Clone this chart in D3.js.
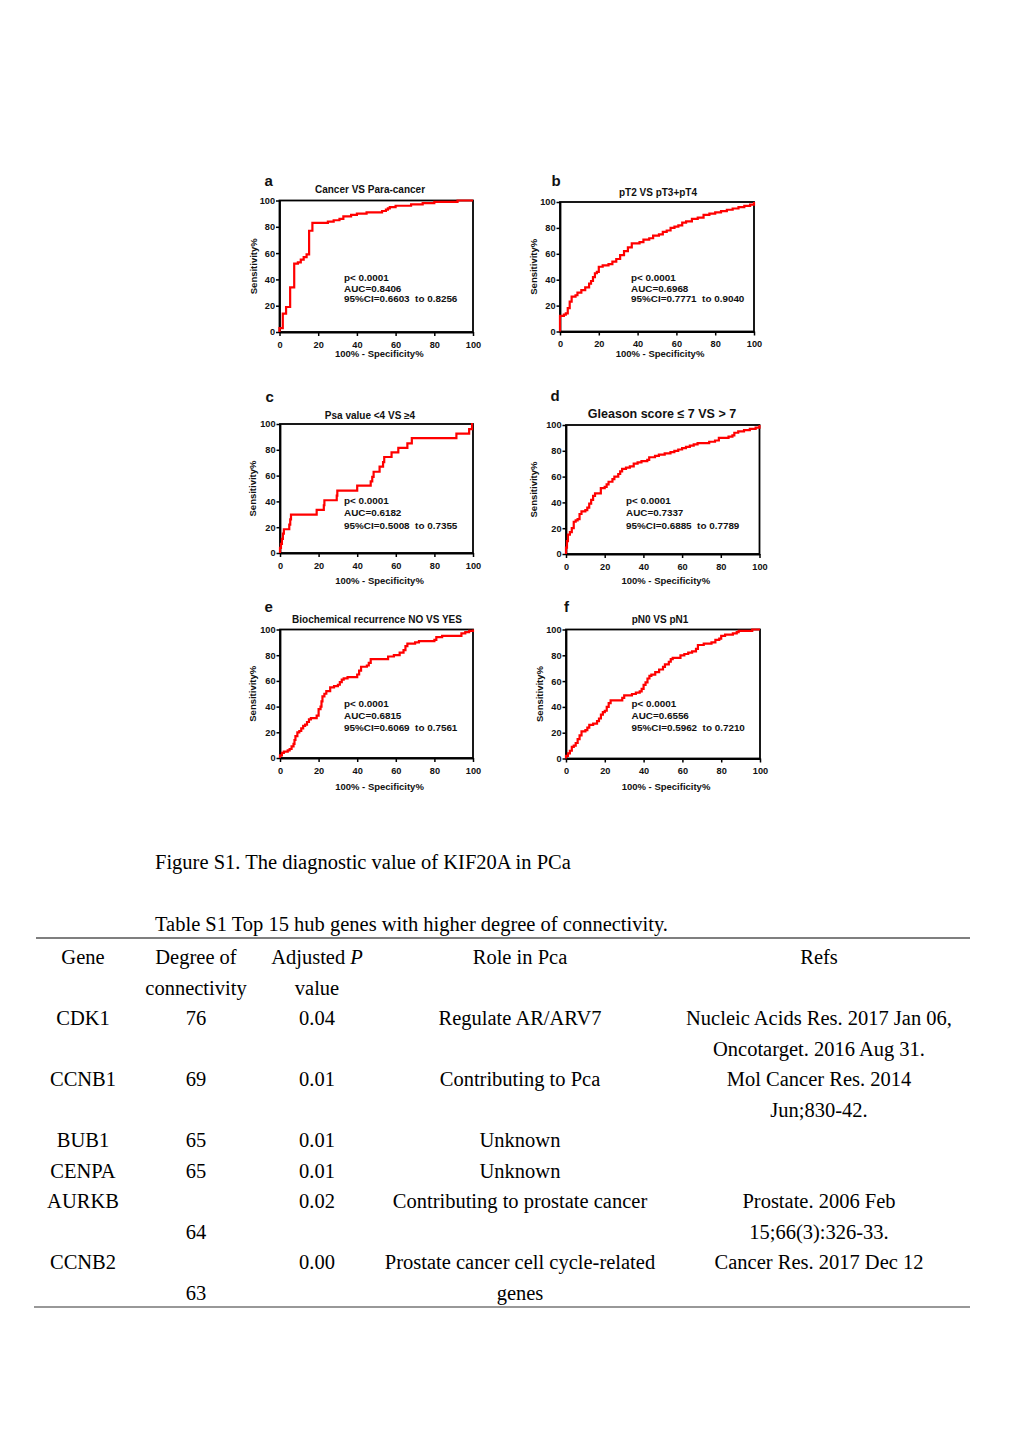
<!DOCTYPE html>
<html><head><meta charset="utf-8">
<script src="https://cdn.jsdelivr.net/npm/d3@7"></script>
<style>body{margin:0;background:#fff} svg{display:block}</style>
</head><body>
<svg id="c" width="1020" height="1442"></svg>
<script>
// ---------------- DATA ----------------
const panelLetters = ["a","b","c","d","e","f"];
const panelTitles = ["Cancer VS Para-cancer","pT2 VS pT3+pT4","Psa value <4 VS \u22654",
  "Gleason score \u2264 7 VS > 7","Biochemical recurrence NO VS YES","pN0 VS pN1"];
const pValueTexts = ["p< 0.0001","p< 0.0001","p< 0.0001","p< 0.0001","p< 0.0001","p< 0.0001"];
const aucValues = ["0.8406","0.6968","0.6182","0.7337","0.6815","0.6556"];
const ciLower = ["0.6603","0.7771","0.5008","0.6885","0.6069","0.5962"];
const ciUpper = ["0.8256","0.9040","0.7355","0.7789","0.7561","0.7210"];
const axisTicks = [0,20,40,60,80,100];
const xAxisLabel = "100% - Specificity%";
const yAxisLabel = "Sensitivity%";

// ROC points: [100% - specificity, sensitivity]
const rocA = [[0,0],[0,3],[1.7,14],[3.4,19],[5.5,34],[7.6,52],[9.5,53],[11,55],[12.5,57],[14,59],
  [15.3,77],[17,83],[25,84],[28,85],[31,86],[33,88],[37,89],[40,90],[45,91],[53,92],[55,93],
  [56,94],[57,95],[60,96],[68,97],[74,98],[80,99],[92,100],[100,100]];
const rocB = [[0,0],[0,12],[2,13],[3,14],[4,18],[5,23],[6,27],[8,28],[9,30],[11,32],[13,34],
  [15,37],[16,39],[17,42],[18,45],[19,46],[20,50],[22,51],[25,52],[27,54],[29,56],[31,59],
  [33,62],[35,65],[37,68],[40,68],[41,69],[43,71],[46,72],[48,74],[51,75],[53,77],[55,78],
  [57,80],[59,81],[61,82],[63,84],[65,85],[68,87],[71,88],[74,90],[77,91],[80,92],[83,93],
  [86,94],[89,95],[92,96],[95,97],[98,98],[100,100]];
const rocC = [[0,0],[0,4],[0.5,7],[1,11],[1.5,15],[2,18.4],[4.8,22],[5.3,26],[5.7,29.8],
  [19,33.4],[22.7,37],[23,40.9],[29.4,44.5],[29.7,48.4],[40,52.3],[47,55.6],[47.8,59],
  [48.5,63],[51.6,67],[53.4,70.5],[54,74.4],[57.8,78],[61.3,81.5],[66,85],[68.3,89],
  [91.4,92.6],[98,96],[99.5,100],[100,100]];
const rocD = [[0,0],[0,5],[0.5,10],[1,15],[2,17],[3,20],[4,25],[5,26],[6,27],[7,31],[8,33],
  [10,34],[11,36],[12,39],[13,42],[14,45],[15,47],[17,47],[18,51],[20,52],[21,54],[22,56],
  [24,58],[25,60],[27,62],[28,64],[29,66],[31,67],[33,68],[35,70],[37,71],[39,72],[42,73],
  [43,75],[46,76],[48,77],[51,78],[54,79],[56,80],[58,81],[60,82],[62,83],[64,84],[66,85],
  [68,86],[72,86],[74,87],[77,88],[79,90],[82,90],[84,91],[86,92],[87,94],[89,95],[92,96],
  [95,97],[98,98],[100,100]];
const rocE = [[0,0],[0,2],[1,4],[2,5],[4,6],[5,7],[6,9],[7,11],[7.5,14],[8,17],[9,20],[10,21],
  [11,23],[12,25],[13,26],[14,28],[15,30],[16,31],[18,31],[19,33],[20,38],[21,40],[21.5,44],
  [22,48],[23,50],[24,52],[26,55],[28,56],[30,57],[31,59],[32,61],[33,62],[35,63],[39,63],
  [40,65],[41,68],[42,71],[45,72],[46,74],[47,77],[53,77],[56,79],[59,80],[62,82],[64,84],
  [65,87],[66,89],[70,90],[72,91],[80,92],[81,94],[84,95],[93,95],[94,97],[96,98],[98,99],
  [100,100]];
const rocF = [[0,0],[0,2],[1,4],[2,6],[3,9],[4,10],[5,12],[6,15],[7,18],[8,21],[10,22],[11,24],
  [12,26],[14,27],[16,29],[17,31],[18,34],[19,36],[20,37],[21,40],[22,43],[23,45],[28,45],
  [29,47],[30,49],[34,50],[36,51],[38,52],[39,54],[40,57],[41,59],[42,62],[43,64],[44,65],
  [46,67],[48,69],[50,71],[51,73],[53,75],[54,77],[55,78],[58,78],[59,80],[61,81],[63,82],
  [65,83],[67,85],[68,88],[71,89],[75,90],[77,92],[79,93],[80,95],[82,96],[86,97],[88,98],
  [89,99],[95,99],[96,100],[100,100]];
const rocCurves = [rocA, rocB, rocC, rocD, rocE, rocF];

const figureCaption = "Figure S1. The diagnostic value of KIF20A in PCa";
const tableTitle = "Table S1 Top 15 hub genes with higher degree of connectivity.";
const headerGene = ["Gene"];
const headerDegree = ["Degree of","connectivity"];
const headerPValue = ["Adjusted |P|","value"];
const headerRole = ["Role in Pca"];
const headerRefs = ["Refs"];
const geneNames = [["CDK1"],["CCNB1"],["BUB1"],["CENPA"],["AURKB"],["CCNB2"]];
const degreeValues = [["76"],["69"],["65"],["65"],["","64"],["","63"]];
const adjPValues = [["0.04"],["0.01"],["0.01"],["0.01"],["0.02"],["0.00"]];
const roles = [["Regulate AR/ARV7"],["Contributing to Pca"],["Unknown"],["Unknown"],
  ["Contributing to prostate cancer"],["Prostate cancer cell cycle-related","genes"]];
const refs = [["Nucleic Acids Res. 2017 Jan 06,","Oncotarget. 2016 Aug 31."],
  ["Mol Cancer Res. 2014","Jun;830-42."],[],[],
  ["Prostate. 2006 Feb","15;66(3):326-33."],["Cancer Res. 2017 Dec 12"]];

// ---------------- LAYOUT ----------------
const layout = [
  {x0:279.5,x1:473,y0:200.5,y1:332, letter:[264.5,186], title:[370,192.5,10], ylabX:256.5, xlabY:356.5, stats:[344,281,10.7]},
  {x0:560,x1:754,y0:202,y1:331.5,  letter:[551.5,186], title:[658,196,10],   ylabX:537,   xlabY:356.5, stats:[631,281,10.7]},
  {x0:280,x1:473,y0:424,y1:553,    letter:[265.5,402], title:[370,418.5,10], ylabX:256,   xlabY:583.5, stats:[344,503.5,12.6]},
  {x0:566,x1:759.5,y0:425,y1:554,  letter:[550.5,401], title:[662,417.8,12.5], ylabX:536.5, xlabY:583.5, stats:[626,503.5,12.6]},
  {x0:280,x1:473,y0:629.5,y1:758,  letter:[264.5,612], title:[377,622.5,10], ylabX:256,   xlabY:790, stats:[344,706.5,12.3]},
  {x0:566,x1:760,y0:629.5,y1:758.5,letter:[564,612], title:[660,622.5,10], ylabX:542.5, xlabY:790, stats:[631.5,706.5,12.3]}
];

const svg = d3.select("#c");
svg.append("rect").attr("width",1020).attr("height",1442).attr("fill","#fff");
const SANS = "'Liberation Sans', Arial, sans-serif";
const SERIF = "'Liberation Serif', 'Times New Roman', serif";

layout.forEach((L, i) => {
  const g = svg.append("g").attr("font-family", SANS).attr("font-weight","bold");
  const x = d3.scaleLinear().domain([0,100]).range([L.x0, L.x1]);
  const y = d3.scaleLinear().domain([0,100]).range([L.y1, L.y0]);

  g.append("rect").attr("x",L.x0).attr("y",L.y0).attr("width",L.x1-L.x0).attr("height",L.y1-L.y0)
    .attr("fill","none").attr("stroke","#000").attr("stroke-width",1.8);

  const ax = g.append("g").attr("transform",`translate(0,${L.y1})`)
    .call(d3.axisBottom(x).tickValues(axisTicks).tickSize(4).tickPadding(5).tickSizeOuter(0));
  const ay = g.append("g").attr("transform",`translate(${L.x0},0)`)
    .call(d3.axisLeft(y).tickValues(axisTicks).tickSize(3.5).tickPadding(1).tickSizeOuter(0));
  [ax, ay].forEach(a => {
    a.select(".domain").attr("stroke","#000").attr("stroke-width",1.8);
    a.selectAll(".tick line").attr("stroke","#000").attr("stroke-width",1.5);
    a.selectAll(".tick text").attr("fill","#111").attr("font-size",9.2)
      .attr("font-family",SANS).attr("font-weight","bold");
  });

  const line = d3.line().x(d => x(d[0])).y(d => y(d[1])).curve(d3.curveStepAfter);
  g.append("path").datum(rocCurves[i]).attr("d", line).attr("fill","none")
    .attr("stroke","#ff0000").attr("stroke-width",2.2).attr("stroke-linejoin","miter");

  g.append("text").attr("x",L.letter[0]).attr("y",L.letter[1]).attr("font-size",15)
    .attr("fill","#111").text(panelLetters[i]);
  g.append("text").attr("x",L.title[0]).attr("y",L.title[1]).attr("text-anchor","middle")
    .attr("font-size",L.title[2]).attr("fill","#111").text(panelTitles[i]);
  g.append("text").attr("transform",`translate(${L.ylabX},${(L.y0+L.y1)/2}) rotate(-90)`)
    .attr("text-anchor","middle").attr("font-size",9.5).attr("fill","#111").text(yAxisLabel);
  g.append("text").attr("x",(L.x0+L.x1)/2+3).attr("y",L.xlabY).attr("text-anchor","middle")
    .attr("font-size",9.5).attr("fill","#111").text(xAxisLabel);
  const st = [pValueTexts[i], "AUC=" + aucValues[i], "95%CI=" + ciLower[i] + "  to " + ciUpper[i]];
  st.forEach((s, k) => {
    g.append("text").attr("x",L.stats[0]).attr("y",L.stats[1] + k*L.stats[2])
      .attr("font-size",9.9).attr("fill","#111").attr("xml:space","preserve")
      .style("white-space","pre").text(s);
  });
});

// ---------------- CAPTION & TABLE ----------------
const tg = svg.append("g").attr("font-family", SERIF).attr("font-size", 20.5).attr("fill","#000");
tg.append("text").attr("x",155).attr("y",868.5).text(figureCaption);
tg.append("text").attr("x",155).attr("y",931).text(tableTitle);
tg.append("line").attr("x1",36).attr("x2",970).attr("y1",938).attr("y2",938)
  .attr("stroke","#555").attr("stroke-width",1.6);
tg.append("line").attr("x1",34).attr("x2",970).attr("y1",1307).attr("y2",1307)
  .attr("stroke","#333").attr("stroke-width",1.2);

const colX = [83, 196, 317, 520, 819];
const baseY = 964, lineH = 30.5;
function cell(lines, col, startLine) {
  lines.forEach((s, k) => {
    if (!s) return;
    const t = tg.append("text").attr("x", colX[col]).attr("y", baseY + (startLine + k) * lineH)
      .attr("text-anchor","middle");
    s.split("|").forEach((p, j) => {
      const ts = t.append("tspan").text(p);
      if (j % 2 === 1) ts.attr("font-style","italic");
    });
  });
}
cell(headerGene,0,0); cell(headerDegree,1,0); cell(headerPValue,2,0); cell(headerRole,3,0); cell(headerRefs,4,0);
let lineIdx = 2;
geneNames.forEach((gname, r) => {
  const cols = [gname, degreeValues[r], adjPValues[r], roles[r], refs[r]];
  cols.forEach((c, ci) => cell(c, ci, lineIdx));
  lineIdx += d3.max(cols, c => c.length);
});
</script>
</body></html>
